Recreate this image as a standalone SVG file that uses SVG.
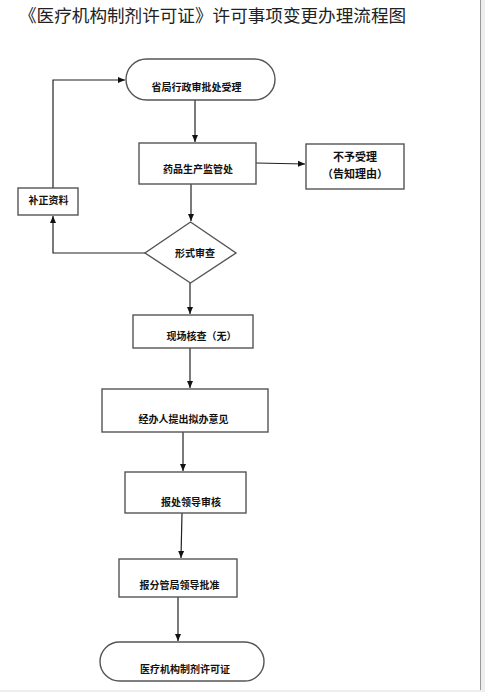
<svg xmlns="http://www.w3.org/2000/svg" width="485" height="692" viewBox="0 0 485 692">
<style>
.box{fill:#fff;stroke:#555;stroke-width:1.4}
.lbl{font-family:"Noto Sans CJK SC","Liberation Serif",serif;font-size:10px;font-weight:bold;fill:#111;text-anchor:middle}
.ln{fill:none;stroke:#222;stroke-width:1.2}
.title{font-family:"Noto Sans CJK SC","Liberation Sans",sans-serif;font-size:17.6px;fill:#222}
</style>
<defs>
<marker id="ah" markerWidth="8" markerHeight="8" refX="7" refY="4" orient="auto" markerUnits="userSpaceOnUse">
<path d="M0,1 L7,4 L0,7 Z" fill="#111"/>
</marker>
</defs>
<rect x="0" y="0" width="485" height="692" fill="#fff"/>
<rect x="481" y="0" width="4" height="692" fill="#eee"/>
<rect x="0" y="690" width="485" height="2" fill="#eee"/>
<line x1="480.5" y1="0" x2="480.5" y2="690" stroke="#999" stroke-width="1"/>
<text class="title" x="19" y="21.5">《医疗机构制剂许可证》许可事项变更办理流程图</text>

<g id="connectors">
<path class="ln" d="M195,100 V142" marker-end="url(#ah)"/>
<path class="ln" d="M256,163 L305,164" marker-end="url(#ah)"/>
<path class="ln" d="M191,184 V221" marker-end="url(#ah)"/>
<path class="ln" d="M145,253 H53 V216" marker-end="url(#ah)"/>
<path class="ln" d="M53,188 V80 H125" marker-end="url(#ah)"/>
<path class="ln" d="M190,283 V314" marker-end="url(#ah)"/>
<path class="ln" d="M190,348 V388" marker-end="url(#ah)"/>
<path class="ln" d="M183,432 V471" marker-end="url(#ah)"/>
<path class="ln" d="M182,513 L181,558" marker-end="url(#ah)"/>
<path class="ln" d="M178,597 V641" marker-end="url(#ah)"/>
</g>

<g id="start">
<rect class="box" x="126" y="59" width="149" height="41" rx="20.5"/>
<text class="lbl" x="196.5" y="90.5">省局行政审批处受理</text>
</g>
<g id="dept">
<rect class="box" x="139" y="143" width="117" height="41"/>
<text class="lbl" x="198" y="172.5">药品生产监管处</text>
</g>
<g id="reject">
<rect class="box" x="306" y="144" width="98" height="45"/>
<text class="lbl" x="355" y="161" style="font-size:11px">不予受理</text>
<text class="lbl" x="355" y="178" style="font-size:11px">（告知理由）</text>
</g>
<g id="supplement">
<rect class="box" x="18" y="188" width="60" height="27"/>
<text class="lbl" x="48.5" y="203.5">补正资料</text>
</g>
<g id="formal">
<polygon class="box" points="190.5,222 236,253 190.5,283 145,253"/>
<text class="lbl" x="195" y="256.5">形式审查</text>
</g>
<g id="onsite">
<rect class="box" x="133" y="315" width="120" height="33"/>
<text class="lbl" x="201.5" y="339.5">现场核查（无）</text>
</g>
<g id="handler">
<rect class="box" x="102" y="389" width="166" height="43"/>
<text class="lbl" x="183.5" y="422.5">经办人提出拟办意见</text>
</g>
<g id="deptlead">
<rect class="box" x="125" y="472" width="121" height="41"/>
<text class="lbl" x="191" y="505.5">报处领导审核</text>
</g>
<g id="bureaulead">
<rect class="box" x="119" y="559" width="118" height="38"/>
<text class="lbl" x="179.5" y="588.5">报分管局领导批准</text>
</g>
<g id="end">
<rect class="box" x="100" y="642" width="164" height="39" rx="19.5"/>
<text class="lbl" x="185" y="672.5">医疗机构制剂许可证</text>
</g>
</svg>
